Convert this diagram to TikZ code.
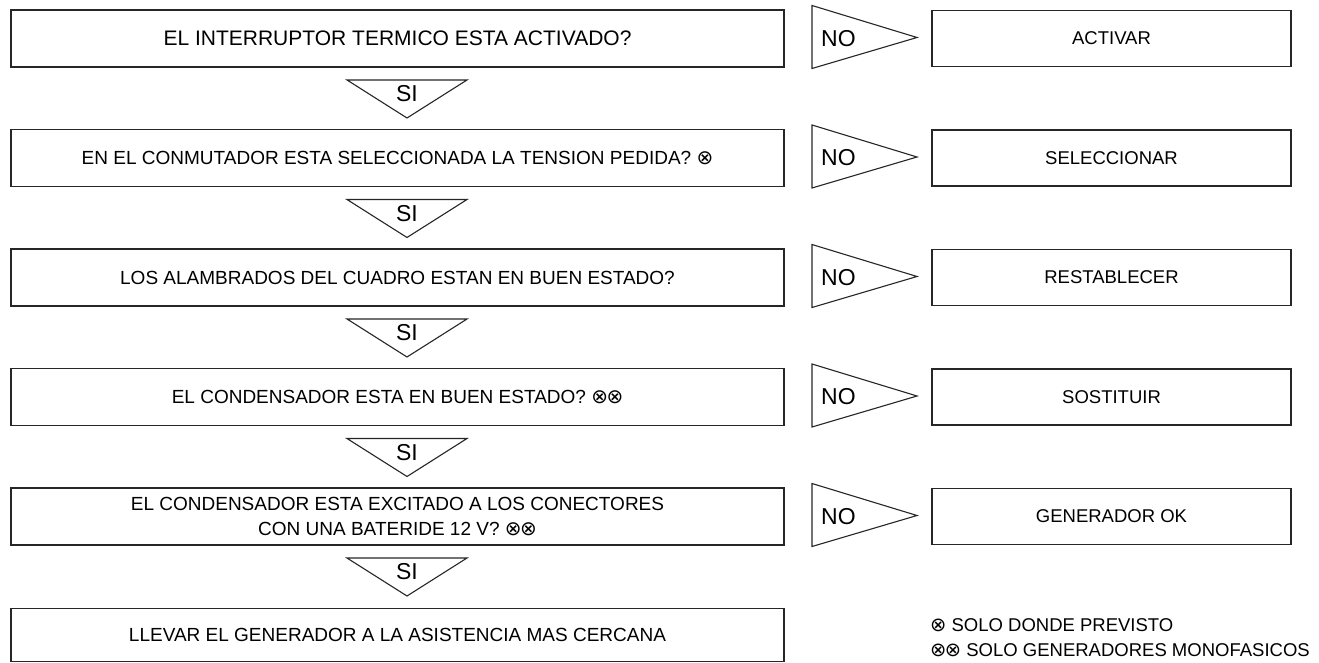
\documentclass[tikz,border=0pt]{standalone}
\usepackage{fontspec}
\setmainfont{Liberation Sans}
\newfontfamily\symfont{DejaVu Sans}
\usetikzlibrary{calc}
\def\ox{{\symfont\scalebox{1.05}{⊗}}}
\def\oxx{\ox\kern-1.5pt\ox}

\tikzset{
  qbox/.style={draw=black!85, line width=1.2pt, fill=white, minimum width=773pt, minimum height=57pt, inner sep=0pt, align=center, font=\fontsize{19}{25}\selectfont},
  abox/.style={qbox, minimum width=359pt, minimum height=56pt, font=\fontsize{18.5}{22}\selectfont},
  tri/.style={draw=black!85, line width=1.1pt, fill=white, line join=miter},
  ans/.style={inner sep=0pt, font=\fontsize{23}{23}\selectfont},
  notes/.style={inner sep=0pt, align=left, font=\fontsize{18.5}{25}\selectfont}
}

\begin{document}
\begin{tikzpicture}[x=1pt, y=-1pt]
				\useasboundingbox (0,0) rectangle (1319,663);
				
				\node[qbox, font=\fontsize{21}{25}\selectfont] (q1) at (397.5,38.5) {EL INTERRUPTOR TERMICO ESTA ACTIVADO?};
				\draw[tri] (812,5.5) -- (812,68.5) -- (917,37.5) -- cycle;
				\node[ans, anchor=west] (no1) at (821,38.5) {NO};
				\node[abox] (a1) at (1111.5,38.5) {ACTIVAR};
				\draw[tri] (347,80) -- (467,80) -- (407,118) -- cycle;
				\node[ans] (si1) at (407,94) {SI};
				
				\node[qbox] (q2) at (397.5,158) {EN EL CONMUTADOR ESTA SELECCIONADA LA TENSION PEDIDA? \ox};
				\draw[tri] (812,125) -- (812,188) -- (917,157) -- cycle;
				\node[ans, anchor=west] (no2) at (821,158) {NO};
				\node[abox] (a2) at (1111.5,158) {SELECCIONAR};
				\draw[tri] (347,199.5) -- (467,199.5) -- (407,237.5) -- cycle;
				\node[ans] (si2) at (407,213.5) {SI};
				
				\node[qbox] (q3) at (397.5,277.5) {LOS ALAMBRADOS DEL CUADRO ESTAN EN BUEN ESTADO?};
				\draw[tri] (812,244.5) -- (812,307.5) -- (917,276.5) -- cycle;
				\node[ans, anchor=west] (no3) at (821,277.5) {NO};
				\node[abox] (a3) at (1111.5,277.5) {RESTABLECER};
				\draw[tri] (347,319) -- (467,319) -- (407,357) -- cycle;
				\node[ans] (si3) at (407,333) {SI};
				
				\node[qbox] (q4) at (397.5,397) {EL CONDENSADOR ESTA EN BUEN ESTADO? \oxx};
				\draw[tri] (812,364) -- (812,427) -- (917,396) -- cycle;
				\node[ans, anchor=west] (no4) at (821,397) {NO};
				\node[abox] (a4) at (1111.5,397) {SOSTITUIR};
				\draw[tri] (347,438.5) -- (467,438.5) -- (407,476.5) -- cycle;
				\node[ans] (si4) at (407,452.5) {SI};
				
				\node[qbox] (q5) at (397.5,516.5) {EL CONDENSADOR ESTA EXCITADO A LOS CONECTORES\\CON UNA BATERIDE 12 V? \oxx};
				\draw[tri] (812,483.5) -- (812,546.5) -- (917,515.5) -- cycle;
				\node[ans, anchor=west] (no5) at (821,516.5) {NO};
				\node[abox] (a5) at (1111.5,516.5) {GENERADOR OK};
				\draw[tri] (347,558) -- (467,558) -- (407,596) -- cycle;
				\node[ans] (si5) at (407,572) {SI};
				
				\node[qbox, minimum height=53pt] (q6) at (397.5,635) {LLEVAR EL GENERADOR A LA ASISTENCIA MAS CERCANA};
				
				\node[notes, anchor=west] (legend) at (930,637.5) {\ox\ SOLO DONDE PREVISTO\\\oxx\ SOLO GENERADORES MONOFASICOS};
			\end{tikzpicture}
\end{document}
